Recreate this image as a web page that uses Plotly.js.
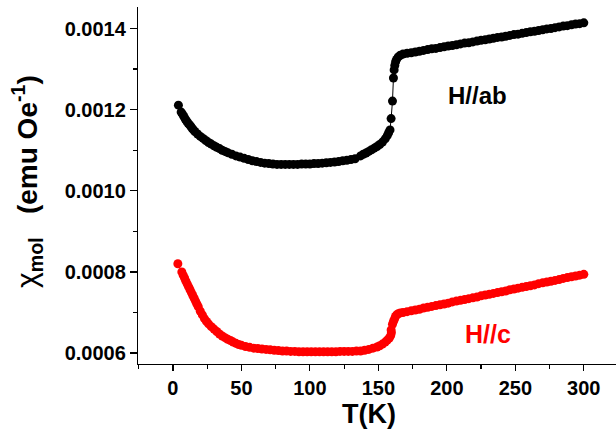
<!DOCTYPE html>
<html>
<head>
<meta charset="utf-8">
<script src="https://cdn.plot.ly/plotly-3.0.1.min.js"></script>
<style>html,body{margin:0;padding:0;background:#fff}#chart{width:616px;height:434px}</style>
</head>
<body>
<div id="chart"></div>
<script>
// H//ab series
const T_ab = [4,6,7,8,9,10,11,12,13,14,15,16,18,20,22,24,26,28,30,32,34,36,38,40,43,46,49,52,55,58,61,64,67,70,73,76,79,82,85,88,91,94,97,100,103,106,109,112,115,118,121,124,127,130,133,137,139,141,143,145,147,149,151,153,155,156.5,157.5,158.5,159.3,160.3,161,161.5,162,162.6,163.3,164.5,166,168,171,174,177,180,183,186,189,192,195,198,201,204,207,210,213,216,219,222,225,228,231,234,237,240,243,246,249,252,255,258,261,264,267,270,273,276,279,282,285,288,291,294,297,300];
const chi_ab = [0.001211,0.001194,0.001189,0.001183,0.001177,0.001172,0.001167,0.001163,0.001159,0.001154,0.00115,0.001146,0.00114,0.001134,0.001129,0.001124,0.001119,0.001115,0.001111,0.001107,0.001104,0.0011,0.001097,0.001094,0.00109,0.001086,0.001083,0.00108,0.001077,0.001074,0.001072,0.00107,0.001068,0.001067,0.001066,0.001065,0.001065,0.001065,0.001065,0.001065,0.001065,0.001066,0.001066,0.001066,0.001067,0.001067,0.001068,0.001069,0.00107,0.001071,0.001072,0.001074,0.001075,0.001077,0.001079,0.001086,0.00109,0.001093,0.001097,0.001101,0.001105,0.001109,0.001114,0.00112,0.001128,0.001136,0.001143,0.00115,0.001178,0.001221,0.001278,0.001298,0.001309,0.001318,0.001324,0.00133,0.001334,0.001337,0.001339,0.00134,0.001342,0.001344,0.001346,0.001348,0.00135,0.001351,0.001353,0.001355,0.001357,0.001358,0.00136,0.001362,0.001364,0.001365,0.001367,0.001369,0.001371,0.001372,0.001374,0.001376,0.001378,0.001379,0.001381,0.001383,0.001385,0.001386,0.001388,0.00139,0.001392,0.001393,0.001395,0.001397,0.001399,0.0014,0.001402,0.001404,0.001406,0.001407,0.001409,0.001411,0.001412,0.001414];

// H//c series
const T_c = [3.6,6.5,7.5,8.5,9.5,10.5,11.5,12.5,13.5,14.5,15.5,16.5,17.5,18.5,20,21.5,23,24.5,26,28,30,32,34,36,38,40,42,44,46,48,50,53,56,59,62,65,68,71,74,77,80,83,86,89,92,95,98,101,104,107,110,113,116,119,122,125,128,131,134,137,140,143,146,149,151,153,155,156.5,158,159,159.5,159.3,160.3,161,161.8,162.5,163.3,164.5,166,168,171,174,177,180,183,186,189,192,195,198,201,204,207,210,213,216,219,222,225,228,231,234,237,240,243,246,249,252,255,258,261,264,267,270,273,276,279,282,285,288,291,294,297,300];
const chi_c = [0.00082,0.0008,0.000792,0.000785,0.000777,0.00077,0.000763,0.000756,0.000749,0.000742,0.000735,0.000728,0.000721,0.000714,0.000703,0.000694,0.000685,0.000678,0.000672,0.000665,0.000659,0.000653,0.000647,0.000642,0.000638,0.000634,0.000631,0.000627,0.000624,0.000621,0.000619,0.000616,0.000614,0.000612,0.000611,0.00061,0.000609,0.000608,0.000607,0.000606,0.000605,0.000605,0.000604,0.000604,0.000603,0.000603,0.000603,0.000603,0.000603,0.000603,0.000603,0.000603,0.000603,0.000603,0.000604,0.000604,0.000604,0.000604,0.000605,0.000605,0.000607,0.000609,0.000612,0.000615,0.000618,0.000622,0.000627,0.000632,0.000637,0.000643,0.00065,0.000657,0.000671,0.000678,0.000684,0.00069,0.000694,0.000697,0.000699,0.0007,0.000702,0.000704,0.000706,0.000708,0.000711,0.000713,0.000715,0.000717,0.000719,0.000721,0.000723,0.000726,0.000728,0.00073,0.000732,0.000734,0.000736,0.000738,0.000741,0.000743,0.000745,0.000747,0.000749,0.000751,0.000753,0.000756,0.000758,0.00076,0.000762,0.000764,0.000766,0.000768,0.000771,0.000773,0.000775,0.000777,0.000779,0.000781,0.000784,0.000786,0.000788,0.00079,0.000792,0.000794];

const xTickVals = [0,50,100,150,200,250,300];
const yTickVals = [0.0006,0.0008,0.0010,0.0012,0.0014];
const labelAB = 'H//ab';
const labelC = 'H//c';
const xTitle = 'T(K)';

const FONT = 'Liberation Sans, Arial, sans-serif';

const traces = [
  {x: T_ab, y: chi_ab, type: 'scatter', mode: 'lines+markers', name: labelAB,
   line: {color: '#000000', width: 1}, marker: {color: '#000000', size: 9, line: {width: 0}}, hoverinfo: 'x+y'},
  {x: T_c, y: chi_c, type: 'scatter', mode: 'lines+markers', name: labelC,
   line: {color: '#ff0000', width: 1}, marker: {color: '#ff0000', size: 9, line: {width: 0}}, hoverinfo: 'x+y'}
];

const xr = [-25.5, 323.5];
const yr = [0.000573, 0.001453];
const tickFont = {family: FONT, size: 20, color: '#000', weight: 'bold'};

const layout = {
  width: 616, height: 434,
  margin: {l: 138, r: 0, t: 7, b: 70},
  paper_bgcolor: '#fff', plot_bgcolor: '#fff',
  showlegend: false,
  font: {family: FONT, color: '#000'},
  xaxis: {range: xr, showline: true, linecolor: '#000', linewidth: 1.2, mirror: false,
    tickmode: 'array', tickvals: xTickVals, ticktext: xTickVals.map(String),
    ticks: 'outside', ticklen: 6, tickwidth: 1.2, tickcolor: '#000',
    minor: {dtick: 25, tick0: 0, ticks: 'outside', ticklen: 4, tickwidth: 1.2, tickcolor: '#000'},
    showgrid: false, zeroline: false, tickfont: tickFont},
  yaxis: {range: yr, showline: true, linecolor: '#000', linewidth: 1.2,
    tickmode: 'array', tickvals: yTickVals, ticktext: yTickVals.map(v => v.toFixed(4)),
    ticks: 'outside', ticklen: 7, tickwidth: 1.2, tickcolor: '#000',
    minor: {dtick: 0.0001, tick0: 0.0006, ticks: 'outside', ticklen: 4, tickwidth: 1.2, tickcolor: '#000'},
    showgrid: false, zeroline: false, tickfont: tickFont},
  xaxis2: {overlaying: 'x', matches: 'x', side: 'top', anchor: 'y', range: xr,
    showline: true, linecolor: '#000', linewidth: 1.2,
    tickmode: 'array', tickvals: xTickVals, showticklabels: false,
    ticks: 'inside', ticklen: 7, tickwidth: 1.2, tickcolor: '#000',
    minor: {dtick: 25, tick0: 0, ticks: 'inside', ticklen: 4, tickwidth: 1.2, tickcolor: '#000'},
    showgrid: false, zeroline: false},
  yaxis2: {overlaying: 'y', matches: 'y', side: 'right', anchor: 'x', range: yr,
    showline: false,
    tickmode: 'array', tickvals: yTickVals, showticklabels: false,
    ticks: 'inside', ticklen: 6, tickwidth: 1.2, tickcolor: '#000',
    minor: {dtick: 0.0001, tick0: 0.0006, ticks: 'inside', ticklen: 4, tickwidth: 1.2, tickcolor: '#000'},
    showgrid: false, zeroline: false},
  annotations: [
    {text: labelAB, xref: 'paper', yref: 'paper', x: (477-138)/478, y: (364-95)/357,
     xanchor: 'center', yanchor: 'middle', showarrow: false,
     font: {family: FONT, size: 24, color: '#000', weight: 'bold'}},
    {text: labelC, xref: 'paper', yref: 'paper', x: (487.5-138)/478, y: (364-334)/357,
     xanchor: 'center', yanchor: 'middle', showarrow: false,
     font: {family: FONT, size: 25, color: '#ff0000', weight: 'bold'}},
    {text: xTitle, xref: 'paper', yref: 'paper', x: (368.5-138)/478, y: (364-414)/357,
     xanchor: 'center', yanchor: 'middle', showarrow: false,
     font: {family: FONT, size: 27, color: '#000', weight: 'bold'}},
    {text: '<span style="font-size:30px">χ</span><sub><b>mol</b></sub><b> &nbsp; (emu Oe</b><sup><b>-1</b></sup><b>)</b>', xref: 'paper', yref: 'paper',
     x: (27-138)/478, y: (364-182)/357, textangle: -90,
     xanchor: 'center', yanchor: 'middle', showarrow: false,
     font: {family: FONT, size: 28, color: '#000'}}
  ]
};

Plotly.newPlot('chart', traces, layout, {staticPlot: true, displayModeBar: false});
</script>
</body>
</html>
